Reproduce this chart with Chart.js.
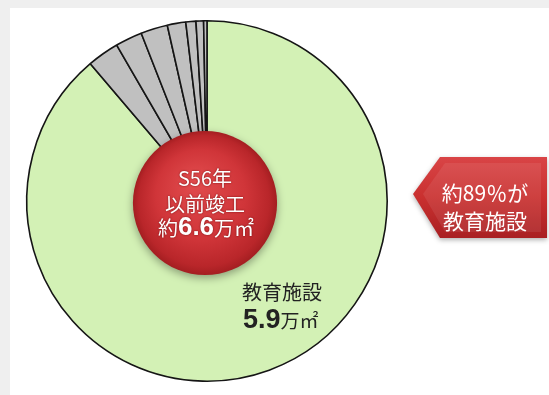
<!DOCTYPE html>
<html>
<head>
<meta charset="utf-8">
<script src="https://cdn.jsdelivr.net/npm/chart.js@4.4.1/dist/chart.umd.min.js"></script>
<style>
  html, body { margin: 0; padding: 0; }
  body { width: 549px; height: 395px; background: #efefef; position: relative; overflow: hidden; }
  #panel { position: absolute; left: 10px; top: 8px; right: 0; bottom: 0; background: #fff; }
  #buildingChart { position: absolute; left: 0; top: 0; }
</style>
</head>
<body>
<div id="panel"></div>
<canvas id="buildingChart" width="549" height="395"></canvas>
<script>
// S56年以前竣工の建物 延床面積（万㎡）
const categories = ["教育施設", "その他1", "その他2", "その他3", "その他4", "その他5", "その他6", "その他7"];
const areas = [5.9, 0.19, 0.16, 0.16, 0.11, 0.06, 0.045, 0.02];

const totalArea = areas.reduce((acc, v) => acc + v, 0);
const eduShare = Math.round((areas[0] / totalArea) * 100);

const FONT_JP = '"Noto Sans CJK JP", "Noto Sans", sans-serif';
const FONT_NUM = '"Liberation Sans", Arial, sans-serif';

// draws one line made of several pieces of text, centred on x
function drawPieces(c, pieces, x, y, align) {
  let width = 0;
  pieces.forEach((p) => {
    c.font = p.font;
    width += c.measureText(p.text).width;
  });
  let left = align === "left" ? x : x - width / 2;
  pieces.forEach((p) => {
    c.font = p.font;
    c.fillText(p.text, left, y);
    left += c.measureText(p.text).width;
  });
}

const overlay = {
  id: "overlay",
  afterDatasetsDraw(chart) {
    const c = chart.ctx;
    const arc = chart.getDatasetMeta(0).data[0];
    const cx = arc.x;
    const cy = arc.y;
    const r = arc.outerRadius;

    // red disc in the middle
    const dx = cx - 2;
    const dy = cy + 2;
    const dr = r * 0.4;
    c.save();
    c.shadowColor = "rgba(0,0,0,0.35)";
    c.shadowBlur = 8;
    c.shadowOffsetY = 3;
    const g = c.createRadialGradient(dx - dr * 0.15, dy - dr * 0.3, dr * 0.05, dx, dy, dr);
    g.addColorStop(0, "#e04a4c");
    g.addColorStop(0.6, "#d03539");
    g.addColorStop(0.9, "#b9262a");
    g.addColorStop(1, "#a41e21");
    c.fillStyle = g;
    c.beginPath();
    c.arc(dx, dy, dr, 0, Math.PI * 2);
    c.fill();
    c.restore();

    c.save();
    c.fillStyle = "#fff";
    c.textBaseline = "middle";
    c.textAlign = "left";
    c.shadowColor = "rgba(90,0,0,0.8)";
    c.shadowBlur = 2;
    drawPieces(c, [{ text: "S56年", font: `20px ${FONT_JP}` }], dx, cy - 23);
    drawPieces(c, [{ text: "以前竣工", font: `20px ${FONT_JP}` }], dx, cy + 3);
    drawPieces(c, [
      { text: "約", font: `20px ${FONT_JP}` },
      { text: totalArea.toFixed(1), font: `bold 26px ${FONT_NUM}` },
      { text: "万㎡", font: `20px ${FONT_JP}` },
    ], dx + 1, cy + 27);
    c.restore();

    // label of the education slice
    c.save();
    c.fillStyle = "#222";
    c.textBaseline = "middle";
    drawPieces(c, [{ text: categories[0], font: `20px ${FONT_JP}` }], cx + 35, cy + 91, "left");
    drawPieces(c, [
      { text: areas[0].toFixed(1), font: `bold 27px ${FONT_NUM}` },
      { text: "万㎡", font: `19px ${FONT_JP}` },
    ], cx + 36, cy + 120, "left");
    c.restore();

    // arrow callout on the right
    c.save();
    c.shadowColor = "rgba(0,0,0,0.3)";
    c.shadowBlur = 5;
    c.shadowOffsetY = 2;
    const ag = c.createLinearGradient(0, 157, 0, 238);
    ag.addColorStop(0, "#d94446");
    ag.addColorStop(0.5, "#c9302f");
    ag.addColorStop(1, "#a92023");
    c.fillStyle = ag;
    c.beginPath();
    c.moveTo(413, 194);
    c.lineTo(440, 157);
    c.lineTo(547, 157);
    c.lineTo(547, 238);
    c.lineTo(440, 238);
    c.closePath();
    c.fill();
    c.restore();
    // inner bevel
    c.save();
    c.fillStyle = "rgba(255,255,255,0.08)";
    c.beginPath();
    c.moveTo(423, 194);
    c.lineTo(445, 163);
    c.lineTo(541, 163);
    c.lineTo(541, 232);
    c.lineTo(445, 232);
    c.closePath();
    c.fill();
    c.fillStyle = "#fff";
    c.textBaseline = "middle";
    drawPieces(c, [{ text: `約${eduShare}％が`, font: `21px ${FONT_JP}` }], 485, 193);
    drawPieces(c, [{ text: categories[0], font: `21px ${FONT_JP}` }], 485, 221);
    c.restore();
  },
};

const chart = new Chart(document.getElementById("buildingChart"), {
  type: "pie",
  data: {
    labels: categories,
    datasets: [
      {
        data: areas,
        backgroundColor: areas.map((v, i) => (i === 0 ? "#d3f1b5" : "#c0c0c0")),
        borderColor: "#151515",
        borderWidth: 1.6,
      },
    ],
  },
  options: {
    responsive: false,
    animation: false,
    layout: { padding: { left: 26, top: 20, right: 161, bottom: 13 } },
    plugins: {
      legend: { display: false },
      tooltip: { enabled: false },
    },
  },
  plugins: [overlay],
});
</script>
</body>
</html>
